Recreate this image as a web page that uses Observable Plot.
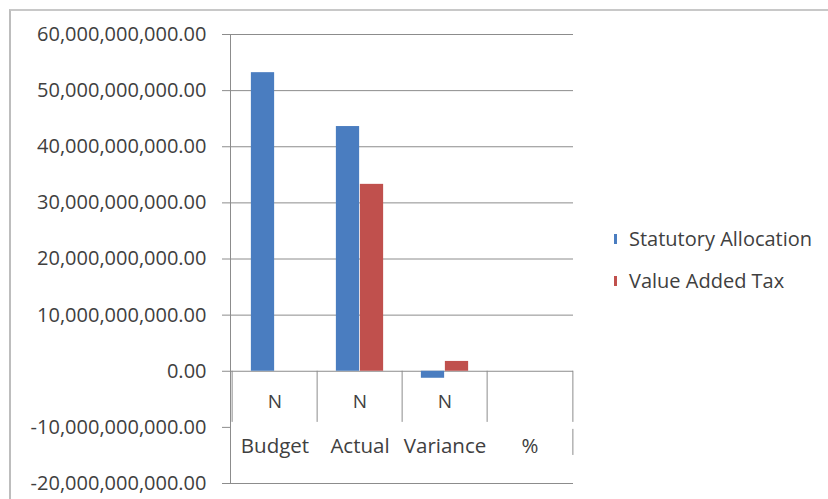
<!DOCTYPE html>
<html><head><meta charset="utf-8">
<script src="https://cdn.jsdelivr.net/npm/d3@7"></script>
<script src="https://cdn.jsdelivr.net/npm/@observablehq/plot@0.6"></script>
<style>
body{margin:0;background:#fff;font-family:"Open Sans",sans-serif;}
#chart{position:relative;width:828px;height:499px;overflow:hidden;}
#frame{position:absolute;left:9px;top:9px;width:840px;height:520px;border-left:2px solid #bdbdbd;border-top:2px solid #c8c8c8;}
#chart svg{position:absolute;left:0;top:0;}
svg text{fill:#404040}
.legend{position:absolute;left:614px;top:218px;font-size:20px;color:#404040;line-height:1}
.item{display:flex;align-items:center;height:42px}
.sw{width:3px;height:10px;margin-right:12px}
</style></head><body>
<div id="chart"><div id="frame"></div></div>
<script>
const categories = ["Budget", "Actual", "Variance", "%"];
const subLabels = ["N", "N", "N", ""];
const series = ["Statutory Allocation", "Value Added Tax"];
const statutoryAllocation = [53.2e9, 43.6e9, -1.25e9, null];
const valueAddedTax = [0, 33.3e9, 1.75e9, null];
const yTicks = [-20e9, -10e9, 0, 10e9, 20e9, 30e9, 40e9, 50e9, 60e9];
const colors = ["#4a7dc0", "#c0504d"];

const rowsSA = categories.map((c, i) => ({category: c, value: statutoryAllocation[i], series: series[0]}));
const rowsVAT = categories.map((c, i) => ({category: c, value: valueAddedTax[i], series: series[1]}));
const labelRows = categories.map((c, i) => ({category: c, sub: subLabels[i]}));

const fmt = d3.formatLocale({decimal: ".", thousands: ",", grouping: [3], currency: ["", ""], minus: "-"}).format(",.2f");
const left = 230, right = 573;
const bw = (right - left) / categories.length;
const barW = 24;
const inset = (bw - barW) / 2;
const lineColor = "#8c8c8c";

const plot = Plot.plot({
  width: 828, height: 499,
  marginLeft: left, marginRight: 828 - right, marginTop: 34, marginBottom: 16,
  style: {fontFamily: "Open Sans", fontSize: "20px", color: lineColor, background: "transparent", overflow: "visible"},
  x: {domain: categories, padding: 0, axis: null},
  y: {domain: [yTicks[0], yTicks[yTicks.length - 1]], ticks: yTicks, tickFormat: fmt, tickSize: 8, tickPadding: 16, label: null, line: true},
  marks: [
    Plot.ruleY(yTicks.filter(t => t !== -10e9), {stroke: lineColor}),
    Plot.barY(rowsSA, {x: "category", y: "value", fill: colors[0], insetLeft: inset, insetRight: inset, dx: -barW / 2}),
    Plot.barY(rowsVAT, {x: "category", y: "value", fill: colors[1], insetLeft: inset, insetRight: inset, dx: barW / 2}),
    Plot.ruleX(categories, {x: d => d, y1: 0, y2: -10e9, insetBottom: 5, dx: -bw / 2, stroke: lineColor}),
    Plot.ruleX(categories.slice(-1), {x: d => d, y1: 0, y2: -10e9, insetBottom: 5, dx: bw / 2, stroke: lineColor}),
    Plot.ruleX(categories.slice(-1), {x: d => d, y1: -10e9, y2: -15e9, insetTop: 2, dx: bw / 2, stroke: lineColor}),
    Plot.text(labelRows, {x: "category", y: 0, text: "sub", dy: 31, fill: "#404040", fontSize: 19}),
    Plot.text(labelRows, {x: "category", y: 0, text: "category", dy: 75, fill: "#404040", fontSize: 20.5})
  ]
});
document.getElementById("chart").appendChild(plot);

const legend = document.createElement("div");
legend.className = "legend";
series.forEach((s, i) => {
  const item = document.createElement("div");
  item.className = "item";
  const sw = document.createElement("span");
  sw.className = "sw";
  sw.style.background = colors[i];
  const t = document.createElement("span");
  t.textContent = s;
  item.appendChild(sw);
  item.appendChild(t);
  legend.appendChild(item);
});
document.getElementById("chart").appendChild(legend);
</script>
</body></html>
